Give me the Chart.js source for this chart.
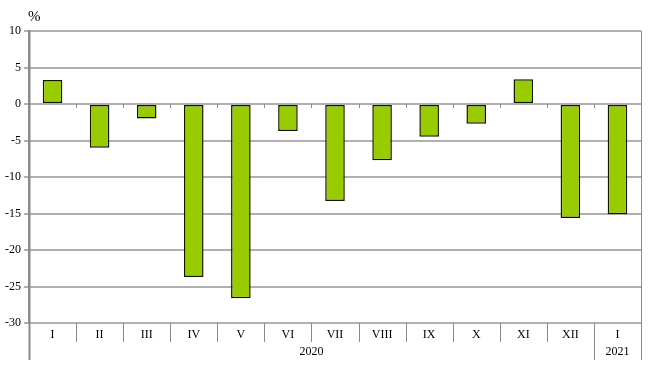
<!DOCTYPE html>
<html>
<head>
<meta charset="utf-8">
<script src="https://cdn.jsdelivr.net/npm/chart.js@4.4.0/dist/chart.umd.min.js"></script>
<style>
	html, body { margin: 0; padding: 0; background: #fff; }
	#wrapper { width: 652px; height: 376px; }
</style>
</head>
<body>
<div id="wrapper"><canvas id="chart"></canvas></div>
<script>
// data
const months = ["I", "II", "III", "IV", "V", "VI", "VII", "VIII", "IX", "X", "XI", "XII", "I"];
const values = [3.3, -6.0, -2.0, -23.7, -26.6, -3.7, -13.3, -7.7, -4.5, -2.7, 3.4, -15.6, -15.1];
const years = [
	{ label: "2020", from: 0, to: 11 },
	{ label: "2021", from: 12, to: 12 },
];
const yMin = -30;
const yMax = 10;
const yStep = 5;

const FONT = "'Liberation Serif', 'Times New Roman', serif";
const GRID = "#b0b0b0";
const AXIS = "#8a8a8a";

// extra bits the Excel-style chart has: %, year row, separators
const decorations = {
	id: "decorations",
	afterDraw(chart) {
		let ctx = chart.ctx;
		let area = chart.chartArea;
		let x = chart.scales.x;
		let y = chart.scales.y;
		let half = (x.getPixelForValue(1) - x.getPixelForValue(0)) / 2;
		let edge = (i) => x.getPixelForValue(i) - half;
		let bottomLong = area.bottom + 37;
		let bottomShort = area.bottom + 19;
		let y0 = y.getPixelForValue(0);

		ctx.save();
		ctx.fillStyle = "#000";
		ctx.font = "15px " + FONT;
		ctx.textAlign = "left";
		ctx.textBaseline = "middle";
		ctx.fillText("%", area.left - 1, 17);

		// little ticks on the zero line
		ctx.strokeStyle = AXIS;
		ctx.lineWidth = 1;
		for (let i = 1; i < months.length; i++) {
			let px = Math.round(edge(i)) + 0.5;
			ctx.beginPath();
			ctx.moveTo(px, y0);
			ctx.lineTo(px, y0 + 4);
			ctx.stroke();
		}

		// category separators under the axis
		let yearEdges = years.map((yr) => yr.from).concat([months.length]);
		for (let i = 0; i <= months.length; i++) {
			let px = Math.round(edge(i)) + 0.5;
			let long = yearEdges.includes(i);
			ctx.lineWidth = i === 0 ? 2 : 1;
			ctx.beginPath();
			ctx.moveTo(px, i === 0 || i === months.length ? area.top : area.bottom);
			ctx.lineTo(px, long ? bottomLong : bottomShort);
			ctx.stroke();
		}

		// year row
		ctx.font = "12px " + FONT;
		ctx.textAlign = "center";
		years.forEach((yr) => {
			let cx = (edge(yr.from) + edge(yr.to + 1)) / 2;
			ctx.fillText(yr.label, cx, area.bottom + 29);
		});
		ctx.restore();
	},
};

let ctx = document.getElementById("chart").getContext("2d");

new Chart(ctx, {
	type: "bar",
	data: {
		labels: months,
		datasets: [
			{
				data: values,
				backgroundColor: "#99CC00",
				borderColor: "#111800",
				borderWidth: 1.5,
				borderSkipped: false,
				barPercentage: 0.8,
				categoryPercentage: 0.52,
			},
		],
	},
	options: {
		responsive: true,
		maintainAspectRatio: false,
		animation: false,
		layout: {
			padding: { top: 31, right: 11, left: 0, bottom: 0 },
		},
		plugins: {
			legend: { display: false },
			tooltip: { enabled: false },
		},
		scales: {
			x: {
				grid: { display: false },
				border: { display: false },
				ticks: {
					color: "#000",
					font: { family: FONT, size: 12 },
					padding: -3,
					maxRotation: 0,
				},
				afterFit: (s) => {
					s.height = 53;
				},
			},
			y: {
				min: yMin,
				max: yMax,
				border: { color: AXIS, width: 2 },
				grid: {
					color: GRID,
					lineWidth: 2,
					tickLength: 5,
				},
				ticks: {
					stepSize: yStep,
					color: "#000",
					font: { family: FONT, size: 12 },
					padding: 3,
					callback: (v) => String(v),
				},
				afterFit: (s) => {
					s.width = 29;
				},
			},
		},
	},
	plugins: [decorations],
});
</script>
</body>
</html>
